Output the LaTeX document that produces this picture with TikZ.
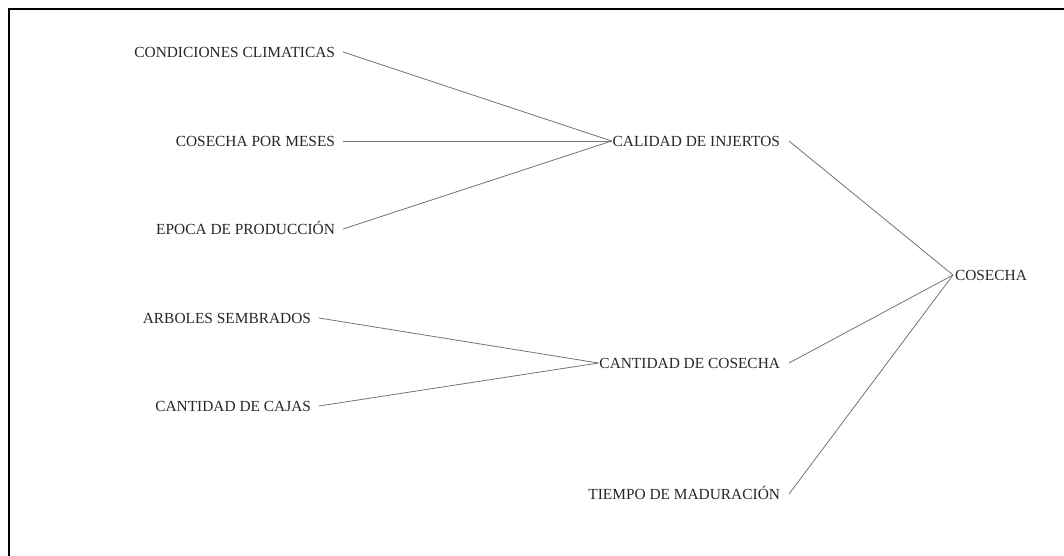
\documentclass[tikz,border=0pt]{standalone}
\usepackage{fontspec}
\setmainfont{Liberation Serif}
\begin{document}
\begin{tikzpicture}[x=1pt,y=-1pt,
  lbl/.style={inner sep=0pt, outer sep=0pt, text height=10.1pt, text depth=0pt,
              font=\fontsize{15.4}{18}\selectfont, text=black!85},
  edge/.style={draw=black!55, line width=0.8pt}]
\useasboundingbox (0,0) rectangle (1064,555);
% frame
\draw[line width=2.2pt, black] (9,556) -- (9,9) -- (1065,9);

% left column
\node[lbl, anchor=east] (cc)  at (335,52)  {CONDICIONES CLIMATICAS};
\node[lbl, anchor=east] (cpm) at (335,141) {COSECHA POR MESES};
\node[lbl, anchor=east] (ep)  at (335,229) {EPOCA DE PRODUCCIÓN};
\node[lbl, anchor=east] (as)  at (311,318) {ARBOLES SEMBRADOS};
\node[lbl, anchor=east] (ccj) at (311,406) {CANTIDAD DE CAJAS};

% middle column
\node[lbl, anchor=east] (ci)  at (780,141) {CALIDAD DE INJERTOS};
\node[lbl, anchor=east] (cco) at (780,363) {CANTIDAD DE COSECHA};
\node[lbl, anchor=east] (tm)  at (780,494) {TIEMPO DE MADURACIÓN};

% result
\node[lbl, anchor=west] (co)  at (955,275) {COSECHA};

% connectors
\draw[edge] ([xshift=8pt]cc.east)  -- ([xshift=-1pt]ci.west);
\draw[edge] ([xshift=8pt]cpm.east) -- ([xshift=-1pt]ci.west);
\draw[edge] ([xshift=8pt]ep.east)  -- ([xshift=-1pt]ci.west);
\draw[edge] ([xshift=8pt]as.east)  -- ([xshift=-1pt]cco.west);
\draw[edge] ([xshift=8pt]ccj.east) -- ([xshift=-1pt]cco.west);
\draw[edge] ([xshift=9pt]ci.east)  -- ([xshift=-2pt]co.west);
\draw[edge] ([xshift=9pt]cco.east) -- ([xshift=-2pt]co.west);
\draw[edge] ([xshift=9pt]tm.east)  -- ([xshift=-2pt]co.west);
\end{tikzpicture}
\end{document}
